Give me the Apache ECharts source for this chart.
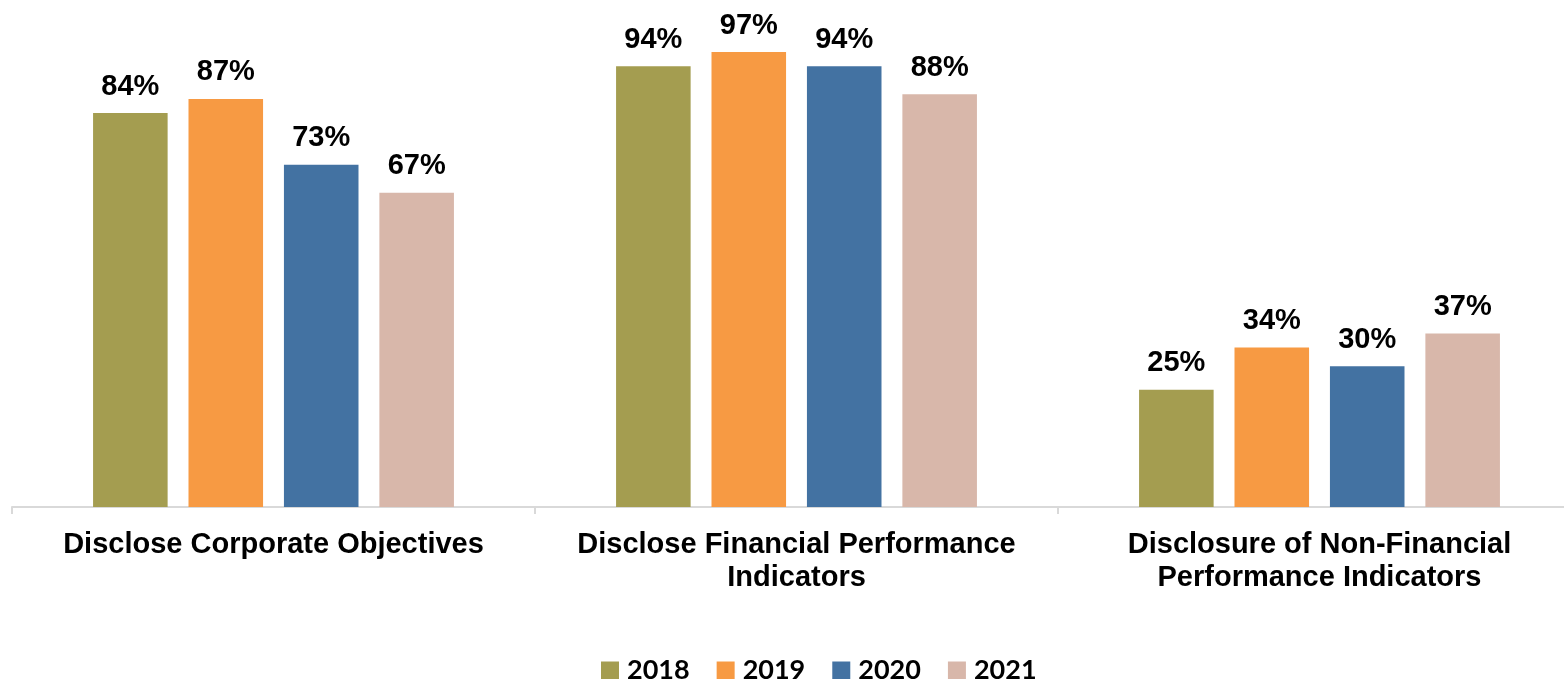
<!DOCTYPE html>
<html>
<head>
<meta charset="utf-8">
<script src="https://cdn.jsdelivr.net/npm/echarts@6/dist/echarts.min.js"></script>
<style>
  html, body { margin: 0; padding: 0; background: #fff; }
  #main { width: 1564px; height: 679px; }
</style>
</head>
<body>
<div id="main"></div>
<script>
// categories and values
var categories = [
  'Disclose Corporate Objectives',
  'Disclose Financial Performance\nIndicators',
  'Disclosure of Non-Financial\nPerformance Indicators'
];
var years = ['2018', '2019', '2020', '2021'];
var colors = ['#a49d50', '#f79a43', '#4372a2', '#d8b7aa'];
var v2018 = [84, 94, 25];
var v2019 = [87, 97, 34];
var v2020 = [73, 94, 30];
var v2021 = [67, 88, 37];
var allValues = [v2018, v2019, v2020, v2021];

var myChart = echarts.init(document.getElementById('main'));

var series = years.map(function (y, i) {
  return {
    name: y,
    type: 'bar',
    data: allValues[i],
    barGap: '28%',
    barCategoryGap: '31%',
    itemStyle: { color: colors[i] },
    label: {
      show: true,
      position: 'top',
      distance: 12,
      formatter: '{c}%',
      color: '#000',
      fontFamily: 'Liberation Sans',
      fontWeight: 'bold',
      fontSize: 29
    }
  };
});

var option = {
  animation: false,
  color: colors,
  grid: { left: 12, top: 38, width: 1569, height: 469, outerBoundsMode: 'none', containLabel: false },
  legend: {
    top: 652,
    left: 596,
    itemWidth: 18,
    itemHeight: 18,
    itemGap: 27,
    icon: 'rect',
    textStyle: {
      fontFamily: 'Lato',
      fontWeight: 'bold',
      fontSize: 27,
      color: '#000',
      padding: [0, 0, 0, 3]
    },
    data: years
  },
  xAxis: {
    type: 'category',
    data: categories,
    axisLine: { lineStyle: { color: '#d9d9d9', width: 2 } },
    axisTick: { show: true, length: 7, lineStyle: { color: '#d9d9d9', width: 2 } },
    axisLabel: {
      margin: 21,
      interval: 0,
      color: '#000',
      fontFamily: 'Liberation Sans',
      fontWeight: 'bold',
      fontSize: 29,
      lineHeight: 33
    }
  },
  yAxis: {
    type: 'value',
    min: 0,
    max: 100,
    show: false,
    splitLine: { show: false }
  },
  series: series
};

myChart.setOption(option);
</script>
</body>
</html>
